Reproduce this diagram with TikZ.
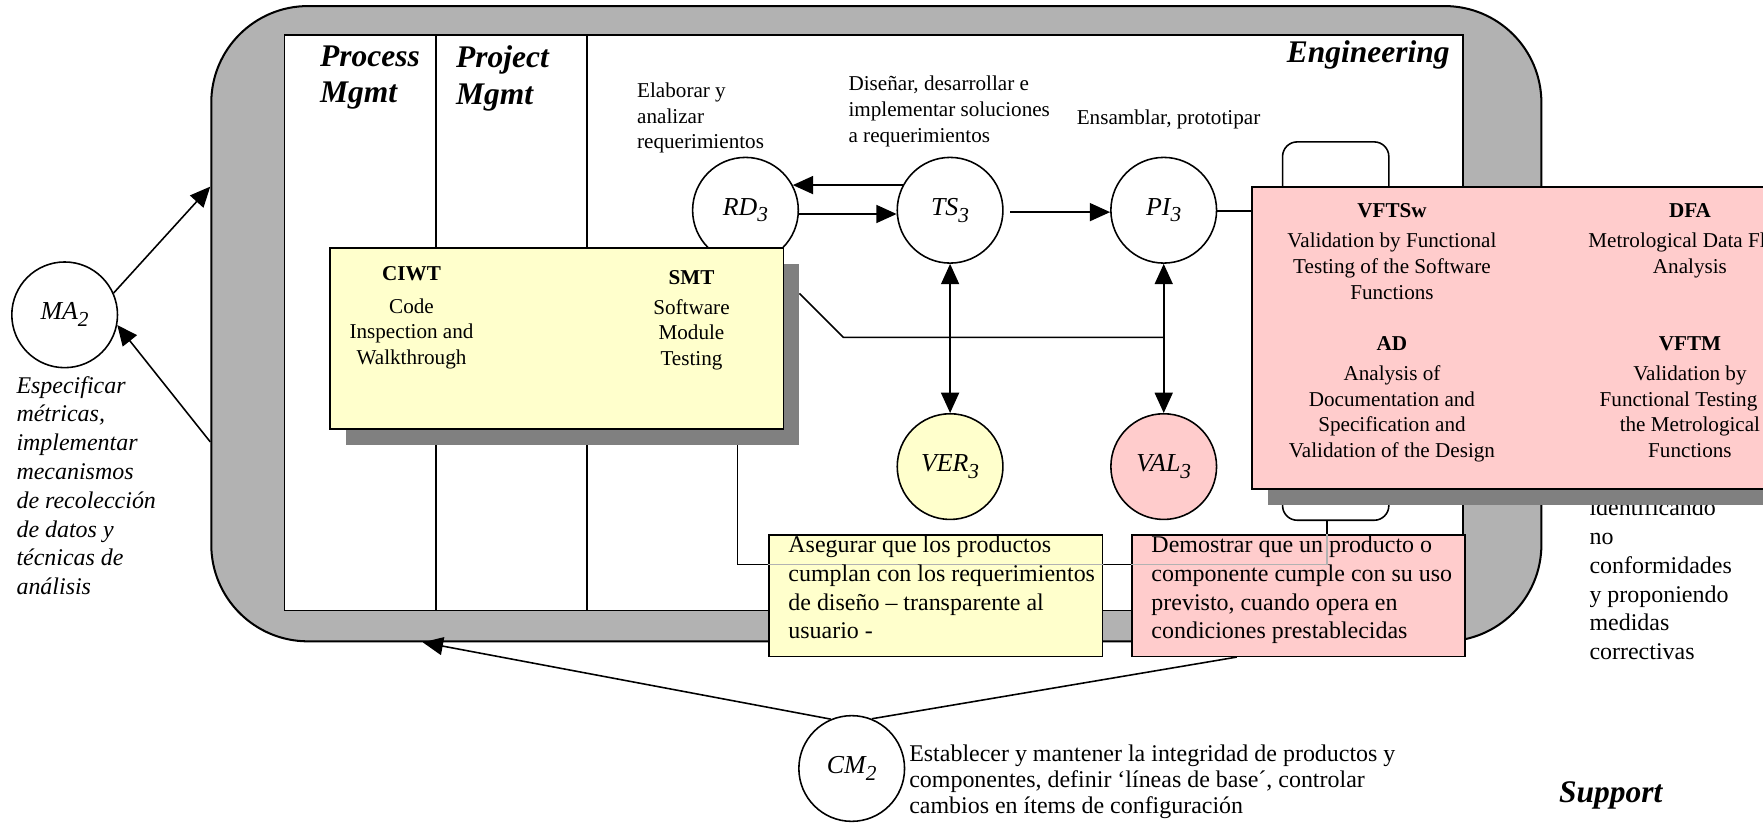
\documentclass[tikz,border=0pt]{standalone}
\usepackage{fontspec}
\setmainfont{Liberation Serif}
\usetikzlibrary{arrows.meta,shadows}
\definecolor{paleyel}{HTML}{FFFFCC}
\definecolor{palered}{HTML}{FFCCCC}
\newcommand\smalltxt{\fontsize{9.4}{11.4}\selectfont}
\newcommand\bigtxt{\fontsize{10.65}{12.8}\selectfont}
\newcommand\headtxt{\fontsize{14}{16.2}\selectfont\bfseries\itshape}
\newcommand\circtxt{\fontsize{11.5}{13}\selectfont\itshape}
\newcommand\lowsub[1]{\raisebox{-3pt}{\fontsize{9.5}{9.5}\selectfont#1}}
\tikzset{
	circ/.style={circle,draw,fill=white,minimum size=47pt,inner sep=0pt,font=\circtxt},
	txt/.style={inner sep=0pt,align=left,anchor=north west},
	ctxt/.style={inner sep=0pt,align=center,anchor=north,font=\smalltxt},
	panel/.style={draw,inner sep=0pt,anchor=north west},
	shadowed/.style={drop shadow={opacity=1,fill=black!50,shadow xshift=7pt,shadow yshift=-7pt}}
}
\begin{document}
\begin{tikzpicture}[x=0.5pt,y=-0.5pt,line width=0.7pt,>={Triangle[length=9pt,width=8pt]}]
	\useasboundingbox (0,0) rectangle (1568,732);
	\node[panel,fill=black!30,line width=0.9pt,rounded corners=43pt,minimum width=591.5pt,minimum height=282.5pt] (frame) at (187,4.5) {};
	\draw[fill=white] (253,31) rectangle (1301,543);
	\foreach \x in {388,522} \draw (\x,31) -- (\x,543);
	\node[txt,font=\headtxt] (hproc) at (284,40) {Process\\Mgmt};
	\node[txt,font=\headtxt] (hproj) at (405,40) {Project\\Mgmt};
	\node[inner sep=0pt,anchor=base east,font=\headtxt] (heng) at (1290,56) {Engineering};
	\node[txt,font=\smalltxt] (telab) at (566,73) {Elaborar y\\analizar\\requerimientos};
	\node[txt,font=\smalltxt] (tdis) at (754,67) {Diseñar, desarrollar e\\implementar soluciones\\a requerimientos};
	\node[inner sep=0pt,anchor=base west,font=\smalltxt] (tens) at (957,111) {Ensamblar, prototipar};
	\node[txt,font=\bigtxt] (tident) at (1413,443) {identificando\\no\\conformidades\\y proponiendo\\medidas\\correctivas};
	\node[inner sep=0pt,anchor=base west,font=\headtxt] (tsupp) at (1386,714) {Support};
	\node[txt,font=\bigtxt\itshape] (tma) at (14,334) {Especificar\\métricas,\\implementar\\mecanismos\\de recolección\\de datos y\\técnicas de\\análisis};
	\node[txt,font=\fontsize{10.65}{11.6}\selectfont] (tcm) at (808,662) {Establecer y mantener la integridad de productos y\\componentes, definir ‘líneas de base´, controlar\\cambios en ítems de configuración};
	\node[panel,fill=white,rounded corners=6.5pt,minimum width=47.25pt,minimum height=168.25pt] (labbox) at (1140,125.5) {};
	\node[circ] (rd) at (663,187) {RD\lowsub{3}};
	\node[circ] (ts) at (845,187) {TS\lowsub{3}};
	\node[circ] (pi) at (1035,187) {PI\lowsub{3}};
	\node[circ,fill=paleyel] (ver) at (845,415) {VER\lowsub{3}};
	\node[circ,fill=palered] (val) at (1035,415) {VAL\lowsub{3}};
	\draw[->] (ts.152) -- (rd.28);
	\draw[->] (rd.-4) -- (ts.184);
	\draw[->,shorten <=3pt] (ts.-2) -- (pi.182);
	\draw[<->] (ts) -- (ver);
	\draw[<->] (pi) -- (val);
	\coordinate (smtout) at (711,261);
	\coordinate (smtdown) at (656,390);
	\draw (smtout) -- (750,300) -- (val.north |- 0,300);
	\draw (smtdown) -- (656,502) -| (labbox.south -| 1180,0);
	\node[panel,shadowed,fill=palered,minimum width=263.5pt,minimum height=134.25pt] (valbox) at (1113,165.5) {};
	\draw (pi.-1) -- (pi.-1 -| valbox.west);
	\node[ctxt] (tvfts) at (1238,180.6) {\textbf{VFTSw}\\[2pt]Validation by Functional\\Testing of the Software\\Functions\\[11.4pt]\textbf{AD}\\[2pt]Analysis of\\Documentation and\\Specification and\\Validation of the Design};
	\node[ctxt] (tdfa) at (1503,180.6) {\textbf{DFA}\\[2pt]Metrological Data Flow\\Analysis\\[22.8pt]\textbf{VFTM}\\[2pt]Validation by\\Functional Testing of\\the Metrological\\Functions};
	\node[panel,shadowed,fill=paleyel,minimum width=201.5pt,minimum height=80.5pt] (tools) at (293,220) {};
	\node[ctxt] (tciwt) at (366,236.6) {\textbf{CIWT}\\[3pt]Code\\Inspection and\\Walkthrough};
	\node[ctxt] (tsmt) at (615,239.6) {\textbf{SMT}\\[2pt]Software\\Module\\Testing};
	\node[panel,fill=paleyel,minimum width=148.5pt,minimum height=54pt] (aseg) at (683,475) {};
	\node[panel,fill=palered,minimum width=148pt,minimum height=54pt] (demo) at (1006,475) {};
	\begin{scope}
		\clip (aseg.south west) rectangle (aseg.north east) (demo.south west) rectangle (demo.north east);
		\draw[black!30] (smtdown) -- (656,502) -| (labbox.south -| 1180,0);
	\end{scope}
	\node[txt,font=\bigtxt] (taseg) at (700.5,476) {Asegurar que los productos\\cumplan con los requerimientos\\de diseño -- transparente al\\usuario -};
	\node[txt,font=\bigtxt] (tdemo) at (1023.4,476) {Demostrar que un producto o\\componente cumple con su uso\\previsto, cuando opera en\\condiciones prestablecidas};
	\node[circ] (ma) at (57.5,280) {MA\lowsub{2}};
	\node[circ] (cm) at (757.5,683.5) {CM\lowsub{2}};
	\draw[->] (ma.24) -- (frame.west |- 0,166);
	\draw[->] (frame.west |- 0,393) -- (ma.-11);
	\draw[->] (cm.113) -- (frame.south -| 376,0);
	\draw (cm.68) -- (demo.south -| 1100,0);
\end{tikzpicture}
\end{document}
